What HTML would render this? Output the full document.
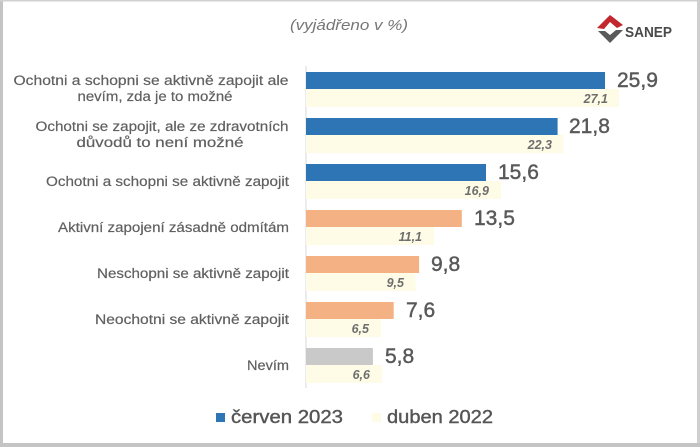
<!DOCTYPE html>
<html>
<head>
<meta charset="utf-8">
<style>
html,body{margin:0;padding:0;background:#fff;}
body{width:700px;height:447px;overflow:hidden;}
svg{display:block;}
text{font-family:"Liberation Sans",Arial,sans-serif;}
</style>
</head>
<body>
<svg width="700" height="447" viewBox="0 0 700 447" xmlns="http://www.w3.org/2000/svg">
  <rect x="0" y="0" width="700" height="447" fill="#ffffff"/>
  <!-- frame -->
  <rect x="0" y="0" width="3" height="447" fill="#c4c4c4"/>
  <rect x="0" y="0" width="700" height="1.5" fill="#d0d0d0"/>
  <rect x="697" y="0" width="3" height="447" fill="#cfcfcf"/>
  <rect x="0" y="443" width="700" height="4" fill="#c4c4c4"/>

  <!-- title -->
  <text x="349" y="30" text-anchor="middle" font-size="14.5" font-style="italic" fill="#767676" textLength="118" lengthAdjust="spacingAndGlyphs">(vyjádřeno v %)</text>

  <!-- logo -->
  <polygon points="597,28 610,15 614,18 623,25 617,28 610,22 604,29" fill="#c1272d"/>
  <polygon points="598,31 605,31 610,35 616,30 623,30 610,43" fill="#5a5a5a"/>
  <text x="625" y="37" font-size="14.5" font-weight="bold" fill="#4a4a4a" textLength="47" lengthAdjust="spacingAndGlyphs">SANEP</text>

  <!-- axis -->
  <rect x="305.5" y="66" width="1" height="322" fill="#d9d9d9"/>

  <!-- bars -->
  <rect x="306" y="72" width="299" height="17" fill="#2e75b6"/>
  <rect x="306" y="89" width="313" height="18" fill="#fefce6"/>
  <rect x="306" y="118" width="251.6" height="17" fill="#2e75b6"/>
  <rect x="306" y="135" width="257.3" height="18" fill="#fefce6"/>
  <rect x="306" y="164" width="180" height="17" fill="#2e75b6"/>
  <rect x="306" y="181" width="195" height="18" fill="#fefce6"/>
  <rect x="306" y="210" width="155.8" height="17" fill="#f4b183"/>
  <rect x="306" y="227" width="128.1" height="18" fill="#fefce6"/>
  <rect x="306" y="256" width="113.1" height="17" fill="#f4b183"/>
  <rect x="306" y="273" width="109.6" height="18" fill="#fefce6"/>
  <rect x="306" y="302" width="87.7" height="17" fill="#f4b183"/>
  <rect x="306" y="319" width="75" height="18" fill="#fefce6"/>
  <rect x="306" y="348" width="66.9" height="17" fill="#c9c9c9"/>
  <rect x="306" y="365" width="76.2" height="18" fill="#fefce6"/>

  <!-- big value labels -->
  <g font-size="21" fill="#595959" stroke="#595959" stroke-width="0.45">
    <text x="617" y="87">25,9</text>
    <text x="569" y="133">21,8</text>
    <text x="498" y="179">15,6</text>
    <text x="474" y="225">13,5</text>
    <text x="431" y="271">9,8</text>
    <text x="406" y="317">7,6</text>
    <text x="385" y="363">5,8</text>
  </g>

  <!-- small italic labels -->
  <g font-size="12.5" font-style="italic" font-weight="bold" fill="#6e6e6e" text-anchor="end">
    <text x="608" y="103">27,1</text>
    <text x="552" y="149">22,3</text>
    <text x="489" y="195">16,9</text>
    <text x="422" y="241">11,1</text>
    <text x="404" y="287">9,5</text>
    <text x="369" y="333">6,5</text>
    <text x="370" y="379">6,6</text>
  </g>

  <!-- category labels -->
  <g font-size="13.5" fill="#606060" stroke="#606060" stroke-width="0.2">
    <text x="151" y="85" text-anchor="middle" textLength="275" lengthAdjust="spacingAndGlyphs">Ochotni a schopni se aktivně zapojit ale</text>
    <text x="155" y="101" text-anchor="middle" textLength="155" lengthAdjust="spacingAndGlyphs">nevím, zda je to možné</text>
    <text x="162" y="131" text-anchor="middle" textLength="253" lengthAdjust="spacingAndGlyphs">Ochotni se zapojit, ale ze zdravotních</text>
    <text x="160" y="147" text-anchor="middle" textLength="167" lengthAdjust="spacingAndGlyphs">důvodů to není možné</text>
    <text x="289" y="186" text-anchor="end" textLength="243" lengthAdjust="spacingAndGlyphs">Ochotni a schopni se aktivně zapojit</text>
    <text x="289" y="232" text-anchor="end" textLength="231" lengthAdjust="spacingAndGlyphs">Aktivní zapojení zásadně odmítám</text>
    <text x="289" y="278" text-anchor="end" textLength="192" lengthAdjust="spacingAndGlyphs">Neschopni se aktivně zapojit</text>
    <text x="289" y="324" text-anchor="end" textLength="194" lengthAdjust="spacingAndGlyphs">Neochotni se aktivně zapojit</text>
    <text x="289" y="370" text-anchor="end" textLength="42" lengthAdjust="spacingAndGlyphs">Nevím</text>
  </g>

  <!-- legend -->
  <rect x="216" y="413" width="9" height="9" fill="#2e75b6"/>
  <text x="231" y="423" font-size="18" fill="#555555" stroke="#555555" stroke-width="0.4" textLength="112" lengthAdjust="spacingAndGlyphs">červen 2023</text>
  <rect x="372" y="413" width="9" height="9" fill="#fefce6"/>
  <text x="387" y="423" font-size="18" fill="#555555" stroke="#555555" stroke-width="0.4" textLength="106" lengthAdjust="spacingAndGlyphs">duben 2022</text>
</svg>
</body>
</html>
